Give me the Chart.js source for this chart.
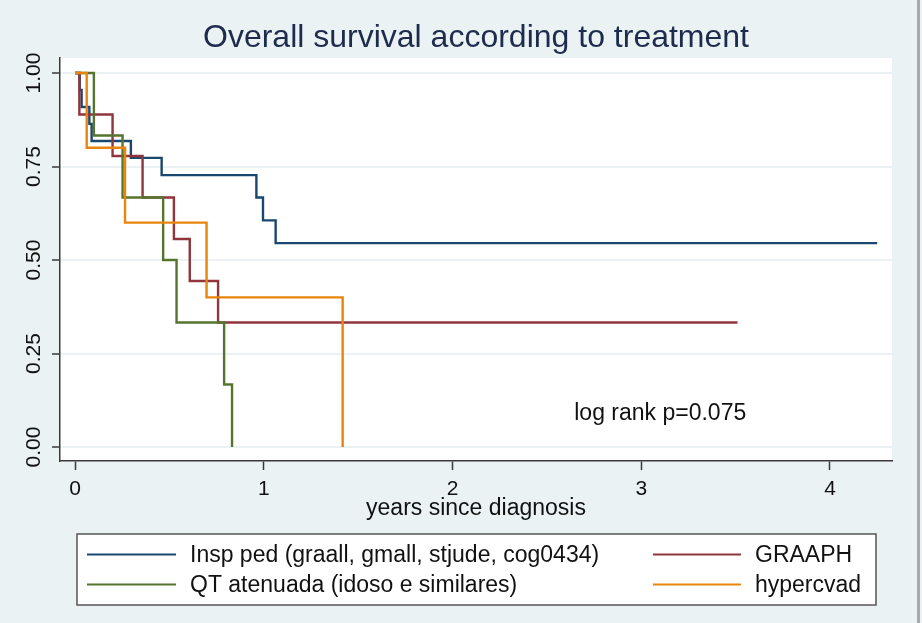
<!DOCTYPE html>
<html>
<head>
<meta charset="utf-8">
<script src="https://cdn.jsdelivr.net/npm/chart.js@4/dist/chart.umd.min.js"></script>
<style>
  html, body { margin: 0; padding: 0; background: #eaf2f3; }
  #wrap { position: relative; width: 922px; height: 623px; }
</style>
</head>
<body>
<div id="wrap"><canvas id="km" width="922" height="623"></canvas></div>
<script>
  // Kaplan-Meier steps (time in years, survival)
  var inspTimes = [0, 0.025, 0.035, 0.076, 0.088, 0.296, 0.459, 0.961, 0.996, 1.063, 4.25];
  var inspSurv  = [1, 0.955, 0.909, 0.864, 0.818, 0.773, 0.727, 0.667, 0.606, 0.545, 0.545];

  var graaphTimes = [0, 0.023, 0.199, 0.358, 0.524, 0.608, 0.758, 3.51];
  var graaphSurv  = [1, 0.889, 0.778, 0.667, 0.556, 0.444, 0.333, 0.333];

  var qtTimes = [0, 0.1, 0.252, 0.467, 0.538, 0.79, 0.832];
  var qtSurv  = [1, 0.833, 0.667, 0.5, 0.333, 0.167, 0];

  var hyperTimes = [0, 0.062, 0.265, 0.697, 1.418];
  var hyperSurv  = [1, 0.8, 0.6, 0.4, 0];

  var seriesNames = ['Insp ped (graall, gmall, stjude, cog0434)', 'GRAAPH', 'QT atenuada (idoso e similares)', 'hypercvad'];
  var seriesColors = ['#1a476f', '#90353b', '#55752f', '#e8850c'];

  var xTicks = [0, 1, 2, 3, 4];
  var yTicks = [0, 0.25, 0.5, 0.75, 1];

  var FONT = '"Liberation Sans", Arial, sans-serif';

  function toPoints(times, surv) {
    return times.map(function (t, i) { return { x: t, y: surv[i] }; });
  }

  function makeSet(idx, times, surv, order) {
    return {
      label: seriesNames[idx],
      data: toPoints(times, surv),
      borderColor: seriesColors[idx],
      borderWidth: 2.4,
      stepped: true,
      pointRadius: 0,
      fill: false,
      order: order
    };
  }

  // background, white plot region and window edge
  var backdrop = {
    id: 'backdrop',
    beforeDraw: function (chart) {
      var ctx = chart.ctx, a = chart.chartArea;
      ctx.save();
      ctx.fillStyle = '#eaf2f3';
      ctx.fillRect(0, 0, chart.width, chart.height);
      ctx.fillStyle = '#ffffff';
      ctx.fillRect(a.left, a.top, a.right - a.left, a.bottom - a.top);
      ctx.fillStyle = '#a9a9a9';
      ctx.fillRect(917, 0, 3, chart.height);
      ctx.restore();
    }
  };

  // title, axis title, note and legend box
  var decorations = {
    id: 'decorations',
    afterDraw: function (chart) {
      var ctx = chart.ctx;
      var xs = chart.scales.x, ys = chart.scales.y;
      ctx.save();
      ctx.textBaseline = 'middle';

      ctx.fillStyle = '#1e2b4d';
      ctx.font = '32px ' + FONT;
      ctx.textAlign = 'center';
      ctx.fillText('Overall survival according to treatment', 476, 38);

      ctx.fillStyle = '#111';
      ctx.font = '23px ' + FONT;
      ctx.fillText('years since diagnosis', 476, 509);

      ctx.textAlign = 'left';
      ctx.fillText('log rank p=0.075', xs.getPixelForValue(2.645), ys.getPixelForValue(0.088));

      // legend
      ctx.fillStyle = '#ffffff';
      ctx.fillRect(77, 534, 799, 71);
      ctx.strokeStyle = '#555';
      ctx.lineWidth = 1.5;
      ctx.strokeRect(77, 534, 799, 71);

      var cols = [{ x0: 87, x1: 176, tx: 190 }, { x0: 653, x1: 741, tx: 755 }];
      var rows = [554.5, 584.5];
      seriesNames.forEach(function (name, i) {
        var c = cols[i % 2], y = rows[Math.floor(i / 2)];
        ctx.strokeStyle = seriesColors[i];
        ctx.lineWidth = 2;
        ctx.beginPath();
        ctx.moveTo(c.x0, y);
        ctx.lineTo(c.x1, y);
        ctx.stroke();
        ctx.fillStyle = '#111';
        ctx.fillText(name, c.tx, y + 1);
      });
      ctx.restore();
    }
  };

  new Chart(document.getElementById('km'), {
    type: 'line',
    data: {
      datasets: [
        makeSet(0, inspTimes, inspSurv, 4),
        makeSet(1, graaphTimes, graaphSurv, 3),
        makeSet(2, qtTimes, qtSurv, 2),
        makeSet(3, hyperTimes, hyperSurv, 1)
      ]
    },
    options: {
      responsive: false,
      animation: false,
      events: [],
      layout: { padding: { top: 58, right: 30, left: 0, bottom: 0 } },
      plugins: { legend: { display: false }, title: { display: false }, tooltip: { enabled: false } },
      scales: {
        x: {
          type: 'linear',
          min: -0.0795,
          max: 4.3285,
          afterBuildTicks: function (s) { s.ticks = xTicks.map(function (v) { return { value: v }; }); },
          afterFit: function (s) { s.height = 162; },
          border: { display: true, color: '#3a3a3a', width: 1.5 },
          grid: { drawOnChartArea: false, drawTicks: true, tickLength: 9, tickColor: '#3a3a3a', tickWidth: 1.5 },
          ticks: {
            padding: 7,
            color: '#111',
            font: { family: FONT, size: 21 },
            callback: function (v) { return String(v); }
          }
        },
        y: {
          type: 'linear',
          min: -0.0374,
          max: 1.0401,
          afterBuildTicks: function (s) { s.ticks = yTicks.map(function (v) { return { value: v }; }); },
          afterFit: function (s) { s.width = 60; },
          border: { display: true, color: '#3a3a3a', width: 1.5 },
          grid: { color: '#eaf2f3', lineWidth: 2, drawTicks: true, tickLength: 8, tickColor: '#3a3a3a', tickWidth: 1.5 },
          ticks: {
            minRotation: 90,
            maxRotation: 90,
            crossAlign: 'center',
            padding: -3,
            color: '#111',
            font: { family: FONT, size: 21 },
            callback: function (v) { return v.toFixed(2); }
          }
        }
      }
    },
    plugins: [backdrop, decorations]
  });
</script>
</body>
</html>
